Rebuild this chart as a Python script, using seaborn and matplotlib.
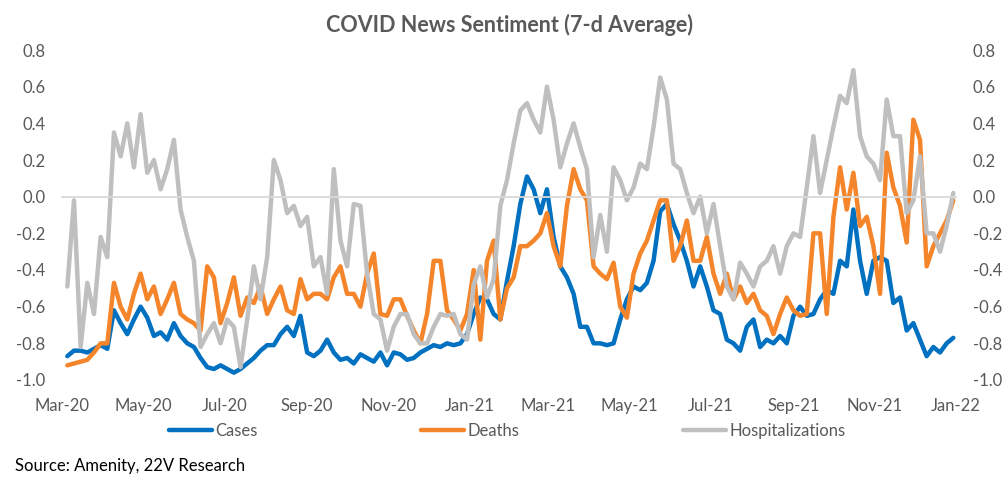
import numpy as np
import pandas as pd
import matplotlib
matplotlib.use("Agg")
import matplotlib.pyplot as plt
import matplotlib.dates as mdates
import seaborn as sns

# -------------------------------
# Data (one point every 5 days)
# -------------------------------
start_date = "2020-03-05"
step_days = 5

cases = [
    -0.87, -0.84, -0.84, -0.85, -0.83, -0.81, -0.83, -0.62, -0.69, -0.75,
    -0.67, -0.60, -0.66, -0.76, -0.74, -0.78, -0.69, -0.76, -0.80, -0.82,
    -0.88, -0.93, -0.94, -0.92, -0.94, -0.96, -0.94, -0.91, -0.88, -0.84,
    -0.81, -0.81, -0.75, -0.71, -0.76, -0.65, -0.85, -0.87, -0.84, -0.78,
    -0.85, -0.89, -0.88, -0.91, -0.86, -0.88, -0.90, -0.85, -0.92, -0.85,
    -0.86, -0.89, -0.88, -0.85, -0.83, -0.81, -0.82, -0.80, -0.81, -0.80,
    -0.75, -0.64, -0.55, -0.56, -0.64, -0.67, -0.46, -0.27, -0.04, 0.11,
    0.04, -0.09, 0.04, -0.22, -0.38, -0.44, -0.53, -0.71, -0.71, -0.80,
    -0.80, -0.81, -0.80, -0.67, -0.56, -0.49, -0.51, -0.47, -0.35, -0.08,
    -0.04, -0.15, -0.24, -0.35, -0.49, -0.38, -0.49, -0.62, -0.64, -0.78,
    -0.80, -0.84, -0.71, -0.67, -0.82, -0.78, -0.80, -0.76, -0.80, -0.65,
    -0.60, -0.65, -0.64, -0.56, -0.51, -0.53, -0.35, -0.38, -0.07, -0.35,
    -0.53, -0.35, -0.33, -0.35, -0.58, -0.55, -0.73, -0.69, -0.78, -0.87,
    -0.82, -0.85, -0.80, -0.77,
]

deaths = [
    -0.92, -0.91, -0.90, -0.89, -0.85, -0.80, -0.80, -0.47, -0.60, -0.67,
    -0.53, -0.42, -0.56, -0.49, -0.64, -0.56, -0.47, -0.64, -0.67, -0.69,
    -0.73, -0.38, -0.44, -0.69, -0.58, -0.44, -0.65, -0.55, -0.58, -0.49,
    -0.64, -0.56, -0.49, -0.62, -0.64, -0.45, -0.56, -0.53, -0.53, -0.56,
    -0.44, -0.38, -0.53, -0.53, -0.60, -0.42, -0.31, -0.64, -0.65, -0.56,
    -0.56, -0.65, -0.73, -0.80, -0.64, -0.35, -0.35, -0.62, -0.67, -0.73,
    -0.64, -0.40, -0.78, -0.35, -0.24, -0.67, -0.50, -0.44, -0.27, -0.27,
    -0.24, -0.20, -0.09, -0.27, -0.38, -0.05, 0.15, 0.04, -0.02, -0.38,
    -0.42, -0.45, -0.36, -0.60, -0.66, -0.42, -0.31, -0.24, -0.13, -0.02,
    -0.02, -0.35, -0.27, -0.13, -0.35, -0.35, -0.22, -0.42, -0.53, -0.42,
    -0.56, -0.49, -0.58, -0.53, -0.62, -0.65, -0.75, -0.64, -0.55, -0.62,
    -0.65, -0.64, -0.20, -0.20, -0.64, -0.11, 0.16, -0.07, 0.13, -0.16,
    -0.11, -0.27, -0.53, 0.24, 0.05, -0.05, -0.25, 0.42, 0.31, -0.38,
    -0.27, -0.20, -0.13, -0.02,
]

hospitalizations = [
    -0.49, -0.02, -0.82, -0.47, -0.64, -0.22, -0.33, 0.35, 0.22, 0.40,
    0.16, 0.45, 0.13, 0.20, 0.04, 0.15, 0.31, -0.07, -0.22, -0.35,
    -0.82, -0.75, -0.69, -0.80, -0.67, -0.71, -0.93, -0.67, -0.38, -0.56,
    -0.33, 0.20, 0.09, -0.09, -0.05, -0.16, -0.11, -0.38, -0.33, -0.53,
    0.15, -0.24, -0.38, -0.04, -0.05, -0.42, -0.64, -0.67, -0.84, -0.71,
    -0.64, -0.64, -0.75, -0.80, -0.80, -0.71, -0.64, -0.65, -0.64, -0.75,
    -0.78, -0.48, -0.38, -0.55, -0.45, -0.05, 0.09, 0.29, 0.47, 0.51,
    0.42, 0.35, 0.60, 0.42, 0.16, 0.29, 0.40, 0.27, 0.15, -0.33,
    -0.10, -0.30, 0.16, 0.09, -0.02, 0.05, 0.18, 0.15, 0.38, 0.65,
    0.53, 0.18, 0.15, 0.02, -0.09, 0.00, -0.20, -0.04, -0.27, -0.49,
    -0.56, -0.36, -0.42, -0.49, -0.38, -0.35, -0.27, -0.42, -0.27, -0.20,
    -0.22, 0.05, 0.33, 0.02, 0.20, 0.38, 0.55, 0.51, 0.69, 0.33,
    0.22, 0.18, 0.09, 0.53, 0.33, 0.33, -0.09, -0.02, 0.22, -0.20,
    -0.20, -0.30, -0.16, 0.02,
]

series_names = ["Cases", "Deaths", "Hospitalizations"]
series_colors = ["#0070C0", "#F5852A", "#BFBFBF"]
y_ticks = [-1.0, -0.8, -0.6, -0.4, -0.2, 0.0, 0.2, 0.4, 0.6, 0.8]

dates = pd.date_range(start_date, periods=len(cases), freq=f"{step_days}D")
df = pd.DataFrame({"Date": dates, "Cases": cases, "Deaths": deaths,
                   "Hospitalizations": hospitalizations})
long_df = df.melt(id_vars="Date", var_name="Series", value_name="Sentiment")

# -------------------------------
# Plot
# -------------------------------
sns.set_style("white")
plt.rcParams["font.family"] = ["Lato", "DejaVu Sans"]
plt.rcParams["lines.solid_joinstyle"] = "round"
text_color = "#595959"

fig = plt.figure(figsize=(10.08, 4.79), dpi=100)
ax = fig.add_axes([0.0615, 0.2067, 0.8869, 0.6889])

sns.lineplot(data=long_df, x="Date", y="Sentiment", hue="Series",
             hue_order=series_names, palette=dict(zip(series_names, series_colors)),
             linewidth=3.2, ax=ax)

ax.set_xlim(pd.Timestamp("2020-03-01"), pd.Timestamp("2022-01-01"))
ax.set_ylim(-1.0, 0.8)
ax.set_xlabel("")
ax.set_ylabel("")

# y axis labels on both sides, no tick marks
ax.set_yticks(y_ticks, labels=[f"{t + 0.0:.1f}" for t in y_ticks])
ax.tick_params(axis="y", length=0, labelsize=12, labelcolor=text_color,
               left=False, right=False, labelleft=True, labelright=True, pad=12)

for side in ["left", "right", "top"]:
    ax.spines[side].set_visible(False)

# horizontal axis crossing at zero, labels at the bottom
tick_dates = pd.date_range("2020-03-01", "2022-01-01", freq="2MS")
tick_nums = mdates.date2num(tick_dates)
ax.spines["bottom"].set_position(("data", 0))
ax.spines["bottom"].set_color("#D9D9D9")
ax.spines["bottom"].set_linewidth(1.3)
ax.set_xticks(tick_nums)
ax.tick_params(axis="x", direction="out", length=4, width=1.2,
               color="#D9D9D9", labelbottom=False)

sec = ax.secondary_xaxis("bottom")
sec.set_xticks(tick_nums)
sec.xaxis.set_major_formatter(mdates.DateFormatter("%b-%y"))
sec.tick_params(length=0, labelsize=12, labelcolor=text_color, pad=13)
sec.spines["bottom"].set_visible(False)

# legend below the chart
handles, labels = ax.get_legend_handles_labels()
ax.get_legend().remove()
fig.legend(handles, labels, loc="center", bbox_to_anchor=(0.503, 0.100),
           ncol=3, frameon=False, fontsize=12, labelcolor=text_color,
           handlelength=2.6, handletextpad=0.2, columnspacing=9.8)

fig.text(0.505, 1 - 25 / 479, "COVID News Sentiment (7-d Average)",
         ha="center", va="center", fontsize=15.5, fontweight="bold", color=text_color)
fig.text(15 / 1008, 1 - 466 / 479, "Source: Amenity, 22V Research",
         ha="left", va="center", fontsize=12, color="black")

fig.savefig("out.png", dpi=100)
